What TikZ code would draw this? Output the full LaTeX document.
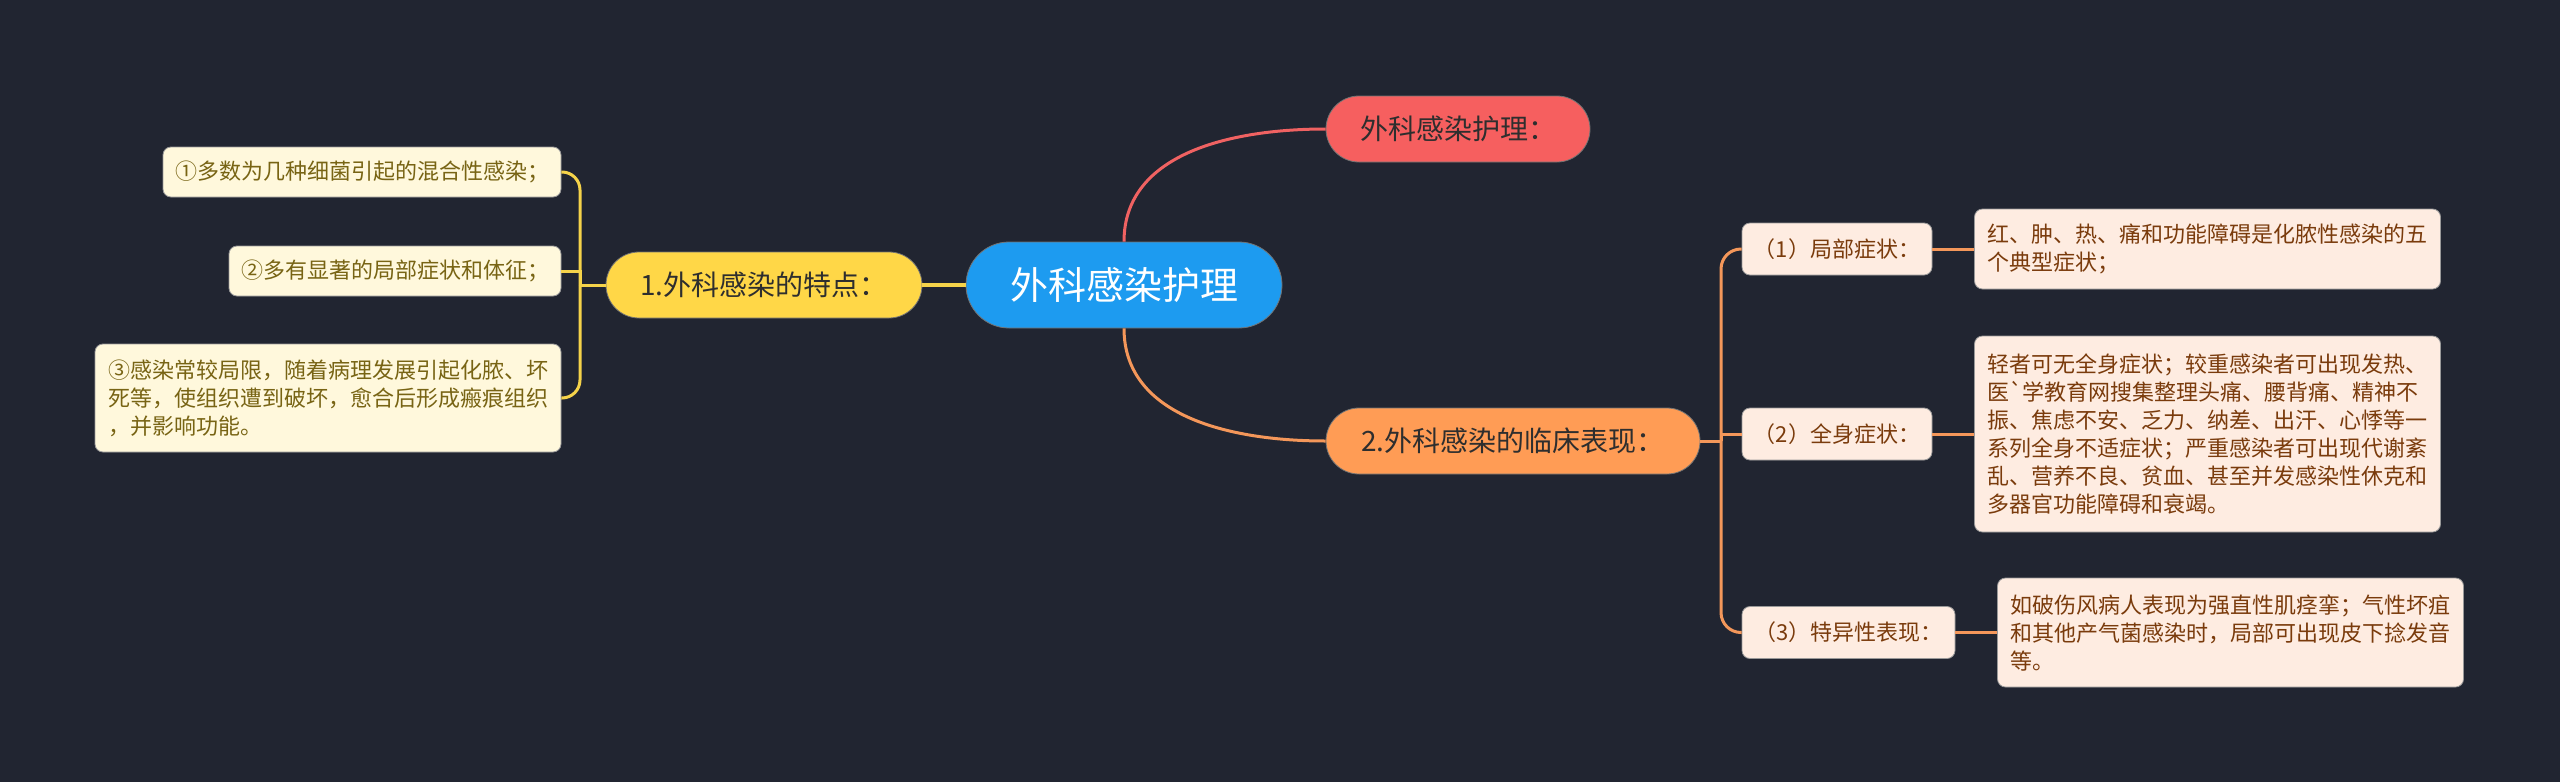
\documentclass[tikz,border=0pt]{standalone}
\usepackage{fontspec}
\newfontfamily\cjk{Noto Sans CJK SC}
\definecolor{bgdark}{HTML}{212531}
\definecolor{topicblue}{HTML}{1D9BF0}
\definecolor{carered}{HTML}{F65F5F}
\definecolor{featyellow}{HTML}{FFD747}
\definecolor{clinorange}{HTML}{FF9C55}
\definecolor{leafyellow}{HTML}{FFF8DC}
\definecolor{leafpeach}{HTML}{FEECE1}
\definecolor{textdark}{HTML}{2E2E2E}
\definecolor{textolive}{HTML}{786414}
\definecolor{textbrown}{HTML}{7A3B0C}
\definecolor{redline}{HTML}{F06262}
\definecolor{yellowline}{HTML}{F5D34A}
\definecolor{orangeline}{HTML}{F4975A}

\begin{document}
\begin{tikzpicture}[x=0.5pt,y=0.5pt,
  every node/.style={font=\cjk},
  topic/.style={fill=topicblue,draw=black!55,text=white,rounded corners=21.5pt,
    minimum width=158pt,minimum height=43pt,font=\cjk\fontsize{19}{22}\selectfont},
  branch/.style={draw=black!55,text=textdark,rounded corners=16.5pt,
    minimum height=33pt,font=\cjk\fontsize{14}{17}\selectfont},
  yleaf/.style={fill=leafyellow,draw=black!40,text=textolive,rounded corners=4pt,
    minimum height=25pt,font=\cjk\fontsize{11}{14}\selectfont},
  oleaf/.style={fill=leafpeach,draw=black!40,text=textbrown,rounded corners=4pt,
    minimum height=26pt,font=\cjk\fontsize{11}{14}\selectfont},
  para/.style={align=left,text width=220pt,inner xsep=6.5pt},
  link/.style={line width=1.5pt}]
\fill[bgdark] (0,0) rectangle (2560,-782);

\node[topic] (ctr) at (1124,-285) {外科感染护理};
\node[branch,fill=carered,minimum width=132pt] (care) at (1458,-129) {外科感染护理：};
\node[branch,fill=featyellow,minimum width=158pt] (feat) at (764,-285) {1.外科感染的特点：};
\node[branch,fill=clinorange,minimum width=187pt] (clin) at (1513,-441) {2.外科感染的临床表现：};

\node[yleaf,minimum width=199pt] (ll1) at (362,-172) {①多数为几种细菌引起的混合性感染；};
\node[yleaf,minimum width=166pt] (ll2) at (395,-271) {②多有显著的局部症状和体征；};
\node[yleaf,para,minimum height=54pt] (ll3) at (328,-398)
  {③感染常较局限，随着病理发展引起化脓、坏\\死等，使组织遭到破坏，愈合后形成瘢痕组织\\，并影响功能。};

\node[oleaf,minimum width=95pt] (sub1) at (1837,-249) {（1）局部症状：};
\node[oleaf,minimum width=95pt] (sub2) at (1837,-434) {（2）全身症状：};
\node[oleaf,minimum width=106.5pt] (sub3) at (1848.5,-632.5) {（3）特异性表现：};

\node[oleaf,para,minimum height=40pt] (rl1) at (2207.5,-249)
  {红、肿、热、痛和功能障碍是化脓性感染的五\\个典型症状；};
\node[oleaf,para,minimum height=98pt] (rl2) at (2207.5,-434)
  {轻者可无全身症状；较重感染者可出现发热、\\医`学教育网搜集整理头痛、腰背痛、精神不\\振、焦虑不安、乏力、纳差、出汗、心悸等一\\系列全身不适症状；严重感染者可出现代谢紊\\乱、营养不良、贫血、甚至并发感染性休克和\\多器官功能障碍和衰竭。};
\node[oleaf,para,minimum height=54.5pt] (rl3) at (2230.5,-632.5)
  {如破伤风病人表现为强直性肌痉挛；气性坏疽\\和其他产气菌感染时，局部可出现皮下捻发音\\等。};

\coordinate (jl) at (580,-285);
\coordinate (jr) at (1721,-441);

\draw[link,redline] (ctr.north) to[out=90,in=180] (care.west);
\draw[link,orangeline] (ctr.south) to[out=-90,in=180] (clin.west);
\draw[link,yellowline,line width=2pt] (ctr.west) -- (feat.east);

\draw[link,yellowline] (feat.west) -- (jl);
\draw[link,yellowline,rounded corners=9pt] (jl) |- (ll1.east);
\draw[link,yellowline] (jl) |- (ll2.east);
\draw[link,yellowline,rounded corners=9pt] (jl) |- (ll3.east);

\draw[link,orangeline] (clin.east) -- (jr);
\draw[link,orangeline,rounded corners=10pt] (jr) |- (sub1.west);
\draw[link,orangeline] (jr) |- (sub2.west);
\draw[link,orangeline,rounded corners=10pt] (jr) |- (sub3.west);

\draw[link,orangeline] (sub1.east) -- (rl1.west);
\draw[link,orangeline] (sub2.east) -- (rl2.west);
\draw[link,orangeline] (sub3.east) -- (rl3.west);
\end{tikzpicture}
\end{document}
